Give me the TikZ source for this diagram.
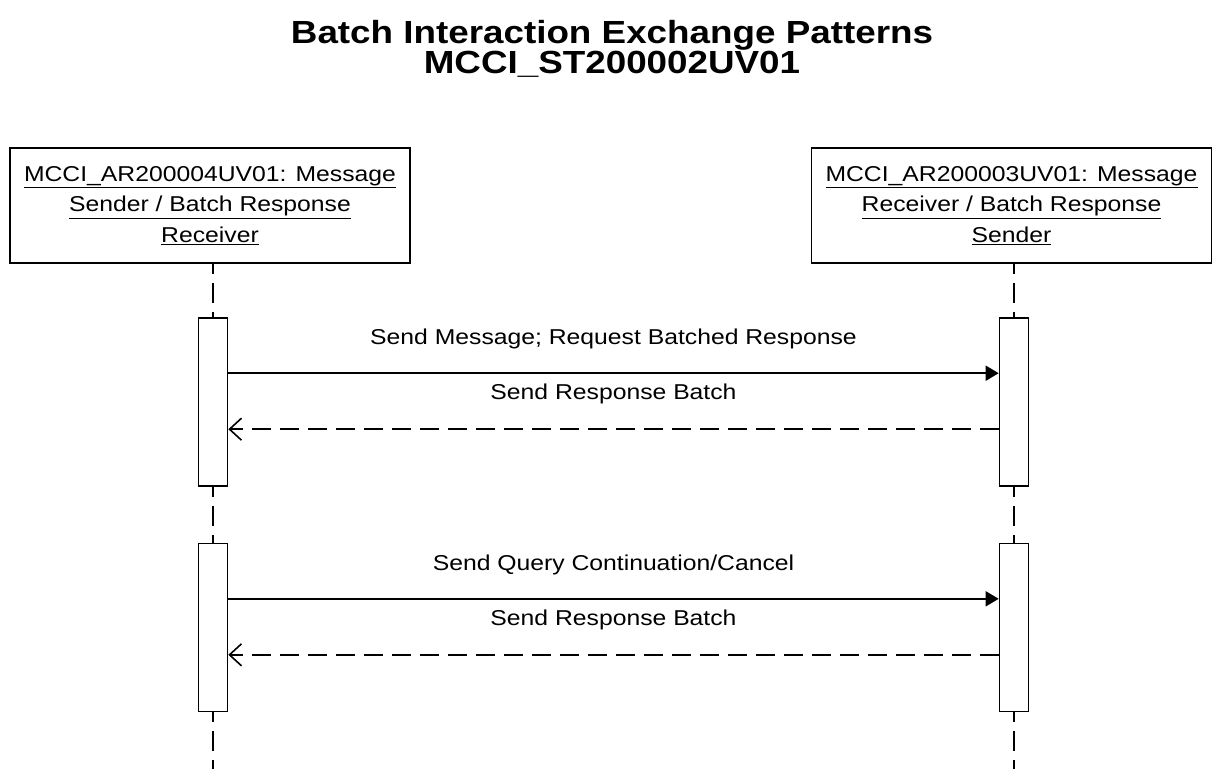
\documentclass[tikz,border=0pt]{standalone}
\usepackage{fontspec}
\newfontfamily\diagfont[FakeStretch=1.15]{Liberation Sans}
\usepackage{tikz}
\usetikzlibrary{arrows.meta,positioning}

\tikzset{
    role/.style={draw, line width=1.6pt, minimum width=400pt, minimum height=115pt,
        align=center, font=\diagfont\fontsize{21.5}{30.5}\selectfont},
    activation/.style={draw, line width=1.6pt, fill=white, minimum width=29pt, minimum height=168pt},
    lifeline/.style={line width=1.6pt, dash pattern=on 20pt off 9pt, dash phase=10pt},
    msg/.style={line width=1.6pt, -{Triangle[length=13pt, width=15pt]}},
    reply/.style={line width=1.6pt, dash pattern=on 19pt off 9pt, -{Straight Barb[length=12pt, width=22pt]}},
    label/.style={font=\diagfont\fontsize{21.5}{26}\selectfont}
}

\begin{document}
\begin{tikzpicture}[x=1pt, y=-1pt]
        \useasboundingbox (0,0) rectangle (1214,769);
        % Title
        \node[align=center, font=\diagfont\bfseries\fontsize{32}{30}\selectfont] (title) at (612,49)
            {Batch Interaction Exchange Patterns\\MCCI\_ST200002UV01};
        % Roles
        \node[role] (sender) at (210,205.5)
            {\underline{MCCI\_AR200004UV01: Message}\\\underline{Sender / Batch Response}\\\underline{Receiver}};
        \node[role] (receiver) at (1011.5,205.5)
            {\underline{MCCI\_AR200003UV01: Message}\\\underline{Receiver / Batch Response}\\\underline{Sender}};
        % Activations
        \node[activation] (act1l) at (213,402) {};
        \node[activation] (act1r) at (1014,402) {};
        \node[activation, below=56pt of act1l] (act2l) {};
        \node[activation, below=56pt of act1r] (act2r) {};
        \coordinate (endl) at (213,769);
        \coordinate (endr) at (1014,769);
        % Draw lifelines
        \foreach \a/\b/\c/\d in {act1l/act2l/sender/endl, act1r/act2r/receiver/endr} {
            \draw[lifeline] (\a.north |- \c.south) -- (\a.north);
            \draw[lifeline] (\a.south) -- (\b.north);
            \draw[lifeline] (\b.south) -- (\d);
        }
        % Messages
        \draw[msg] ([yshift=-56pt]act1l.north east) -- ([yshift=-56pt]act1r.north west)
            node[label, midway, yshift=34pt] {Send Message; Request Batched Response};
        \draw[reply] ([yshift=-112pt]act1r.north west) -- ([yshift=-112pt]act1l.north east)
            node[label, midway, yshift=35pt] {Send Response Batch};
        \draw[msg] ([yshift=-56pt]act2l.north east) -- ([yshift=-56pt]act2r.north west)
            node[label, midway, yshift=34pt] {Send Query Continuation/Cancel};
        \draw[reply] ([yshift=-112pt]act2r.north west) -- ([yshift=-112pt]act2l.north east)
            node[label, midway, yshift=35pt] {Send Response Batch};
\end{tikzpicture}
\end{document}
